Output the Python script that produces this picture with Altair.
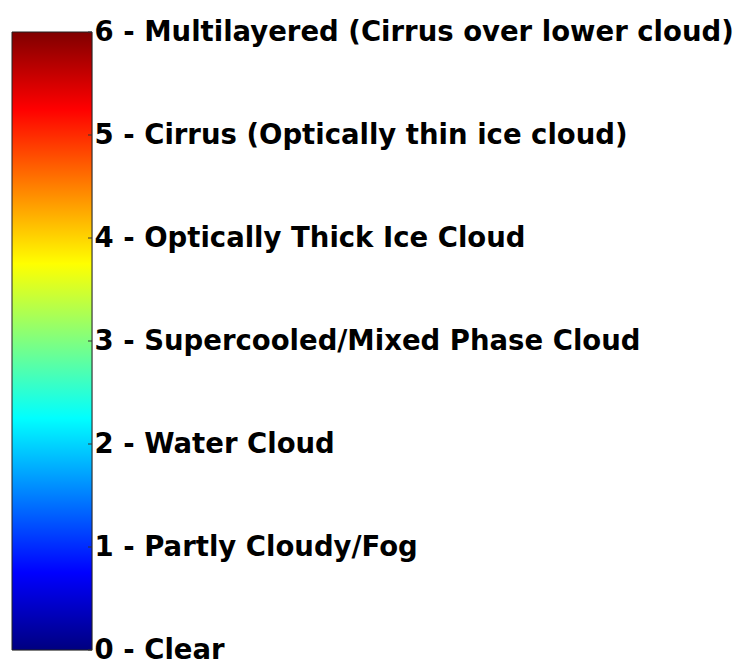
import altair as alt
import pandas as pd

levels = [0, 1, 2, 3, 4, 5, 6]
names = [
    "Clear",
    "Partly Cloudy/Fog",
    "Water Cloud",
    "Supercooled/Mixed Phase Cloud",
    "Optically Thick Ice Cloud",
    "Cirrus (Optically thin ice cloud)",
    "Multilayered (Cirrus over lower cloud)",
]
jet_stops = [0.0, 0.125, 0.375, 0.625, 0.875, 1.0]
jet_colors = ["#000080", "#0000ff", "#00ffff", "#ffff00", "#ff0000", "#800000"]

label_expr = "{" + ", ".join(f"'{l}': '{l} - {n}'" for l, n in zip(levels, names)) + "}[datum.value]"

bar_df = pd.DataFrame({"x0": [0], "x1": [1], "y0": [levels[0]], "y1": [levels[-1]]})
tick_df = pd.DataFrame({"v": levels})

xs = alt.Scale(domain=[0, 1], nice=False, zero=False)
ys = alt.Scale(domain=[levels[0], levels[-1]], nice=False, zero=False)

gradient = {
    "gradient": "linear",
    "x1": 0, "y1": 1, "x2": 0, "y2": 0,
    "stops": [{"offset": o, "color": c} for o, c in zip(jet_stops, jet_colors)],
}

bar = alt.Chart(bar_df).mark_rect(color=gradient, stroke="#222222", strokeWidth=1).encode(
    x=alt.X("x0:Q", scale=xs, axis=None),
    x2="x1:Q",
    y=alt.Y("y0:Q", scale=ys, axis=alt.Axis(
        orient="right", values=levels, labelExpr=label_expr, ticks=False, domain=False,
        grid=False, title=None, labelFont="DejaVu Sans", labelFontWeight="bold",
        labelFontSize=27.5, labelColor="#000000", labelPadding=2, labelOverlap=False,
        labelFlush=False, labelLimit=0)),
    y2="y1:Q",
)

ticks = alt.Chart(tick_df).mark_rule(color="#333333", strokeWidth=1).encode(
    x=alt.value(76), x2=alt.value(80),
    y=alt.Y("v:Q", scale=ys),
)

chart = alt.layer(bar, ticks).properties(
    width=80, height=618,
    padding={"left": 3, "top": 10, "right": 0, "bottom": 0},
).configure_view(stroke=None).configure(background="white")

chart.save("out.html", embed_options={"renderer": "svg", "actions": False})
